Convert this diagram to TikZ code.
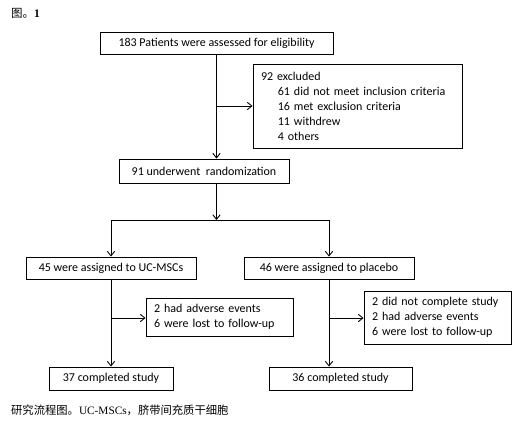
\documentclass[tikz,border=0pt]{standalone}
\usepackage{fontspec}
\setmainfont{Carlito}
\newfontfamily\cjk{Noto Sans CJK SC}
\newfontfamily\serif{Liberation Serif}
\usetikzlibrary{arrows.meta,positioning,calc}
\tikzset{
  dob/.style={draw,line width=0.9pt,inner sep=0pt,font=\fontsize{12}{15}\selectfont},
  bal/.style={dob,align=left,inner xsep=8pt,text width=#1},
  nyil/.style={line width=0.9pt,-{Straight Barb[length=1.6mm,width=2.6mm]}},
  vonal/.style={line width=0.9pt},
}
\begin{document}
\begin{tikzpicture}[x=1pt,y=-1pt]
  \useasboundingbox (0,0) rectangle (527,428);
  % boxes
  \node[dob,minimum width=233,minimum height=22] (elig) at (216.5,43) {183 Patients were assessed for eligibility};
  \node[bal=193pt,minimum height=84] (kiz) at (357.5,106)
    {92 excluded\\
     \hspace*{1.4em}61 did not meet inclusion criteria\\
     \hspace*{1.4em}16 met exclusion criteria\\
     \hspace*{1.4em}11 withdrew\\
     \hspace*{1.4em}4 others};
  \node[dob,minimum width=170,minimum height=24] (rand) at (204,171) {91 underwent\ \ randomization};
  \node[dob,minimum width=170,minimum height=22] (uc) at (111,268) {45 were assigned to UC-MSCs};
  \node[dob,minimum width=170,minimum height=22] (plac) at (329,268) {46 were assigned to placebo};
  \node[bal=131pt,minimum height=38] (ucki) at (219.5,317) {2 had adverse events\\6 were lost to follow-up};
  \node[bal=131pt,minimum height=53] (plki) at (437.5,317.5) {2 did not complete study\\2 had adverse events\\6 were lost to follow-up};
  \node[dob,minimum width=124,minimum height=23] (ucv) at (111,378.5) {37 completed study};
  \node[dob,minimum width=143,minimum height=23] (plv) at (340.5,378.5) {36 completed study};
  % connectors
  \draw[nyil] (elig.south) -- (elig.south |- rand.north);
  \draw[nyil] (elig.south |- kiz.west) -- (kiz.west);
  \coordinate (elag) at (elig.south |- 0,220);
  \draw[nyil] (elig.south |- rand.south) -- (elag);
  \draw[vonal] (uc.north |- elag) -- (plac.north |- elag);
  \draw[nyil] (uc.north |- elag) -- (uc.north);
  \draw[nyil] (plac.north |- elag) -- (plac.north);
  \draw[nyil] (uc.south) -- (ucv.north);
  \draw[nyil] (uc.south |- 0,318) -- (ucki.west |- 0,318);
  \draw[nyil] (plac.south) -- (plac.south |- plv.north);
  \draw[nyil] (plac.south |- 0,318) -- (plki.west |- 0,318);
  % captions
  \node[anchor=west,inner sep=0pt,font=\fontsize{11.5}{13}\selectfont] (fig) at (11,13) {{\cjk 图。}\serif\bfseries 1};
  \node[anchor=west,inner sep=0pt,font=\fontsize{11.3}{13}\selectfont] (cap) at (11,410)
    {{\cjk 研究流程图。}{\serif UC-MSCs}{\cjk ，脐带间充质干细胞}};
\end{tikzpicture}
\end{document}
